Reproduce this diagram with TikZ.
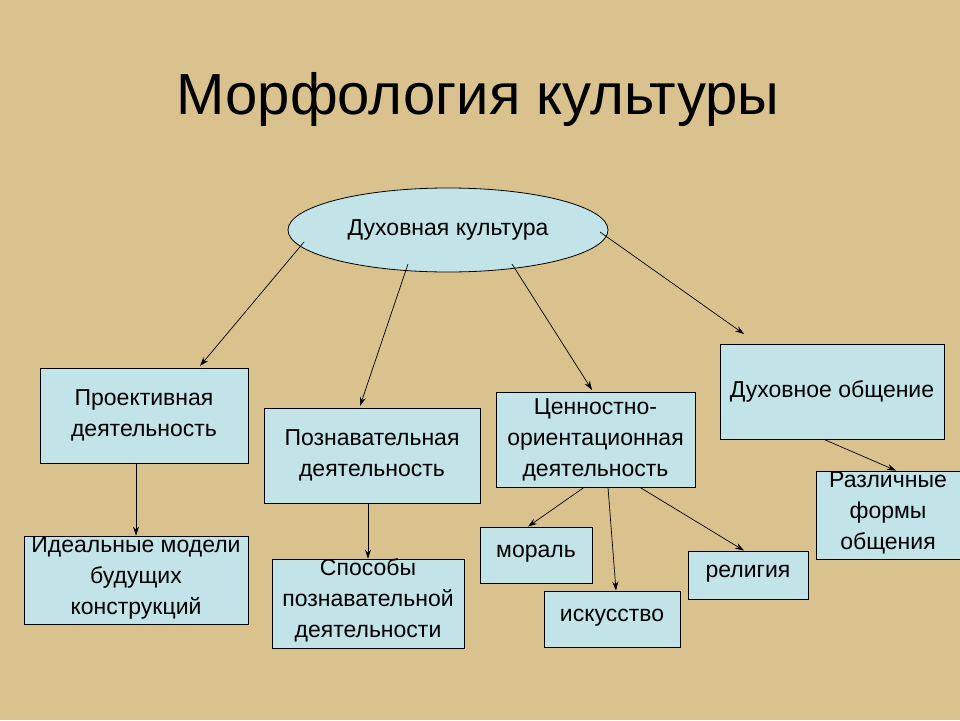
\documentclass[tikz,border=0pt]{standalone}
\usepackage{fontspec}
\setmainfont{Liberation Sans}
\usetikzlibrary{shapes.geometric,arrows.meta}
\definecolor{bg}{HTML}{D9C28E}
\definecolor{bx}{HTML}{C2E3E8}
\begin{document}
\begin{tikzpicture}[x=1pt,y=-1pt,
  bx/.style={draw,fill=bx,line width=0.8pt,align=center,font=\fontsize{23}{31}\selectfont,inner sep=0},
  ar/.style={-{Stealth[length=9pt,width=6pt]},line width=0.7pt}]
\fill[bg] (0,0) rectangle (960,720);
\useasboundingbox (0,0) rectangle (960,720);
\node (t) at (478,100) {\fontsize{58}{64}\selectfont Морфология культуры};
\node[ellipse,draw,fill=bx,line width=0.8pt,minimum width=320pt,minimum height=84pt,font=\fontsize{23}{28}\selectfont] (e) at (448,230) {Духовная культура};
\node[bx,minimum width=208pt,minimum height=95pt] (p) at (144,415.5) {Проективная\\деятельность};
\node[bx,minimum width=216pt,minimum height=95pt] (k) at (372,455.5) {Познавательная\\деятельность};
\node[bx,minimum width=199pt,minimum height=95pt] (c) at (595.5,439.5) {Ценностно-\\ориентационная\\деятельность};
\node[bx,minimum width=224pt,minimum height=95pt] (d) at (832,391.5) {Духовное общение};
\node[bx,minimum width=224pt,minimum height=88pt,text depth=8pt] (i) at (136,580) {Идеальные модели\\будущих\\конструкций};
\node[bx,minimum width=192pt,minimum height=87pt,text depth=10pt] (s) at (368,603.5) {Способы\\познавательной\\деятельности};
\node[bx,minimum width=112pt,minimum height=56pt,text depth=8pt] (m) at (536,555) {мораль};
\node[bx,minimum width=136pt,minimum height=56pt,text depth=8pt] (a) at (612,619) {искусство};
\node[bx,minimum width=120pt,minimum height=48pt,text depth=8pt] (r) at (748,575) {религия};
\node[bx,minimum width=144pt,minimum height=88pt,text depth=8pt] (f) at (888,515) {Различные\\формы\\общения};
\coordinate (e1) at (304,242); \coordinate (e2) at (408,264);
\coordinate (e3) at (512,264); \coordinate (e4) at (600,232);
\draw[ar] (e1) -- (200,366);
\draw[ar] (e2) -- (360,406);
\draw[ar] (e3) -- (592,390);
\draw[ar] (e4) -- (744,334);
\draw[ar] (p.south -| i.north) -- (i.north);
\draw[ar] (k.south -| s.north) -- (s.north);
\draw[ar] ([xshift=-11.5pt]c.south) -- ([xshift=-8pt]m.north);
\draw[ar] ([xshift=12.5pt]c.south) -- ([xshift=4pt]a.north);
\draw[ar] ([xshift=44.5pt]c.south) -- ([xshift=-4pt]r.north);
\draw[ar] ([xshift=-8pt]d.south) -- ([xshift=8pt]f.north);
\end{tikzpicture}
\end{document}
